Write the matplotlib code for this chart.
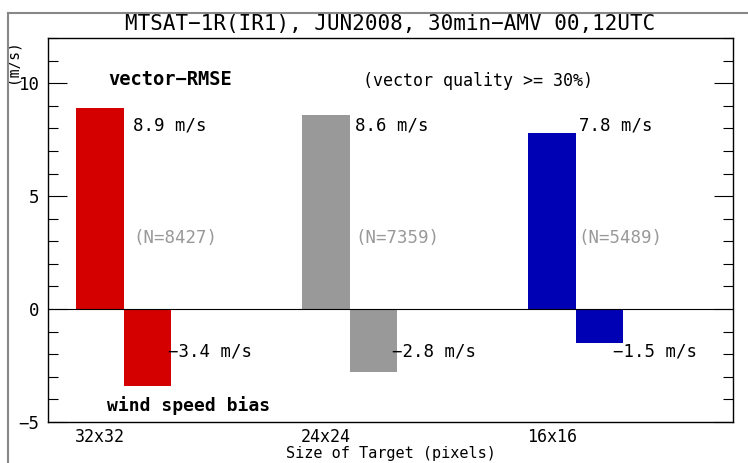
import numpy as np
import matplotlib
matplotlib.use("Agg")
import matplotlib.pyplot as plt
from matplotlib.lines import Line2D
from matplotlib.ticker import MultipleLocator

###############################################
# Data
###############################################

targets = ["32x32", "24x24", "16x16"]
rmse = [8.9, 8.6, 7.8]
bias = [-3.4, -2.8, -1.5]
counts = [8427, 7359, 5489]
colors = ["#d40000", "#999999", "#0000b4"]

title = "MTSAT\u22121R(IR1), JUN2008, 30min\u2212AMV 00,12UTC"

###############################################
# Layout
###############################################

W, H = 748, 463
plt.rcParams["font.family"] = ["DejaVu Sans Mono", "DejaVu Sans"]

fig = plt.figure(figsize=(W / 100, H / 100), dpi=100)
ax = fig.add_axes([48 / W, 1 - 422 / H, (733 - 48) / W, (422 - 38) / H])

x = np.arange(len(targets))
bw = 0.21
ax.bar(x, rmse, bw, color=colors, linewidth=0, align="center")
ax.bar(x + bw, bias, bw, color=colors, linewidth=0, align="center")
ax.axhline(0, color="black", lw=0.8, zorder=3)

ax.set_xlim(-0.23, 2.80)
ax.set_ylim(-5, 12)


def fmt(v):
    return f"{v:.1f} m/s".replace("-", "\u2212")


# label offsets from the group position
val_dx = [0.146, 0.128, 0.117]
bias_dx = [0.30, 0.29, 0.27]

for i in range(len(targets)):
    ax.text(x[i] + val_dx[i], 8.14, fmt(rmse[i]), ha="left", va="center",
            fontsize=12.5)
    ax.text(x[i] + val_dx[i], 3.14, f"(N={counts[i]})", ha="left", va="center",
            fontsize=12.5, color="#999999")
    ax.text(x[i] + bias_dx[i], -1.86, fmt(bias[i]), ha="left", va="center",
            fontsize=12.5)

ax.text(0.31, 10.18, "vector\u2212RMSE", ha="center", va="center",
        fontsize=13.5, fontweight="bold")
ax.text(1.673, 10.1, "(vector quality >= 30%)", ha="center", va="center",
        fontsize=12)
ax.text(0.391, -4.25, "wind speed bias", ha="center", va="center",
        fontsize=13, fontweight="bold")

# ticks
ax.set_yticks([-5, 0, 5, 10])
ax.set_yticklabels(["\u22125", "0", "5", "10"])
ax.yaxis.set_minor_locator(MultipleLocator(1))
ax.tick_params(axis="y", which="both", direction="in", left=True, right=True,
               labelright=False, width=0.8, pad=6, labelsize=12.5)
ax.tick_params(axis="y", which="major", length=14)
ax.tick_params(axis="y", which="minor", length=7)

ax.set_xticks(x)
ax.set_xticklabels(targets)
ax.tick_params(axis="x", length=0, pad=4, labelsize=12)
ax.set_xlabel("Size of Target (pixels)", fontsize=11, labelpad=0)

ax.set_ylabel("(m/s)", fontsize=10.5)
ax.yaxis.set_label_coords(-0.041, 0.94)

for s in ax.spines.values():
    s.set_linewidth(1.0)

ax.set_title(title, fontsize=15, y=1.036, va="center", pad=0)

# outer grey frame
fig.add_artist(Line2D([8 / W, 1], [1 - 13 / H, 1 - 13 / H], color="#888888",
                      lw=1.5, transform=fig.transFigure))
fig.add_artist(Line2D([8 / W, 8 / W], [0, 1 - 13 / H], color="#888888",
                      lw=1.5, transform=fig.transFigure))

fig.savefig("out.png", dpi=100)
